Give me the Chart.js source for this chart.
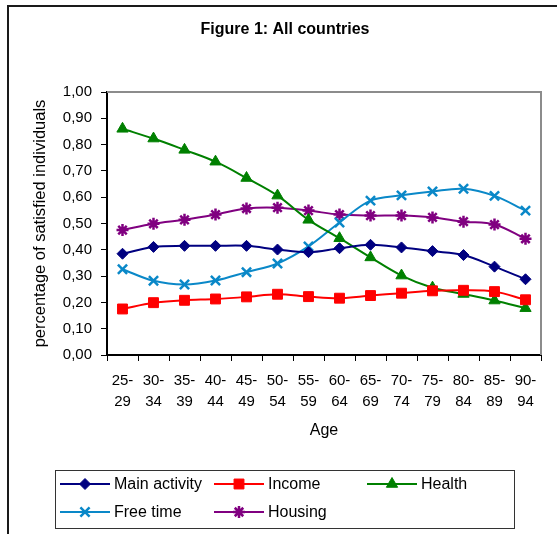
<!DOCTYPE html>
<html>
<head>
<meta charset="utf-8">
<title>Figure 1: All countries</title>
<script src="https://cdn.jsdelivr.net/npm/chart.js@4.4.1/dist/chart.umd.min.js"></script>
<style>
  html, body { margin: 0; padding: 0; background: #ffffff; }
  #wrap { width: 557px; height: 534px; position: relative; }
</style>
</head>
<body>
<div id="wrap"><canvas id="chart" width="557" height="534"></canvas></div>
<script>
// Age groups (two-line labels)
const ageGroups = [
  ['25-', '29'], ['30-', '34'], ['35-', '39'], ['40-', '44'], ['45-', '49'],
  ['50-', '54'], ['55-', '59'], ['60-', '64'], ['65-', '69'], ['70-', '74'],
  ['75-', '79'], ['80-', '84'], ['85-', '89'], ['90-', '94']
];

// Share of satisfied individuals by domain
const mainActivity = [0.385, 0.411, 0.415, 0.415, 0.415, 0.401, 0.391, 0.406, 0.419, 0.409, 0.395, 0.380, 0.336, 0.288];
const income       = [0.175, 0.199, 0.208, 0.213, 0.221, 0.231, 0.222, 0.216, 0.226, 0.235, 0.244, 0.246, 0.241, 0.210];
const health       = [0.860, 0.823, 0.780, 0.735, 0.673, 0.606, 0.514, 0.444, 0.371, 0.302, 0.256, 0.232, 0.207, 0.178];
const freeTime     = [0.326, 0.282, 0.268, 0.283, 0.315, 0.348, 0.413, 0.504, 0.587, 0.607, 0.622, 0.632, 0.605, 0.549];
const housing      = [0.475, 0.499, 0.514, 0.534, 0.557, 0.560, 0.549, 0.534, 0.530, 0.530, 0.523, 0.507, 0.496, 0.442];

// Value axis ticks
const yTicks = [0, 0.1, 0.2, 0.3, 0.4, 0.5, 0.6, 0.7, 0.8, 0.9, 1.0];

const chartTitle = 'Figure 1: All countries';

const FONT = '"Liberation Sans", Arial, sans-serif';

function series(label, data, color, style, radius, bw) {
  return {
    label, data,
    borderColor: color,
    backgroundColor: color,
    borderWidth: 2,
    pointStyle: style,
    pointRadius: radius,
    pointHoverRadius: radius,
    pointBorderWidth: bw,
    pointBackgroundColor: color,
    pointBorderColor: color,
    tension: 0.35,
    fill: false
  };
}

const datasets = [
  series('Main activity', mainActivity, '#000080', 'rectRot', 5.5, 1),
  series('Income', income, '#ff0000', 'rect', 7, 1),
  series('Health', health, '#008000', 'triangle', 6.5, 1),
  series('Free time', freeTime, '#0a88c8', 'crossRot', 6.5, 2.5),
  series('Housing', housing, '#800080', 'star', 6, 2.5)
];

// Heading, outer frame, plot border and the boxed legend
const decorations = {
  id: 'decorations',
  afterDraw(chart) {
    const ctx = chart.ctx;
    const a = chart.chartArea;
    ctx.save();

    // heading
    ctx.fillStyle = '#000000';
    ctx.font = 'bold 16px ' + FONT;
    ctx.textAlign = 'center';
    ctx.textBaseline = 'middle';
    ctx.fillText(chartTitle, 285, 30);

    // page frame (top and left)
    ctx.strokeStyle = '#1a1a1a';
    ctx.lineWidth = 2;
    ctx.beginPath();
    ctx.moveTo(7, 6); ctx.lineTo(557, 6);
    ctx.moveTo(8, 5); ctx.lineTo(8, 534);
    ctx.stroke();

    // plot area border (top and right)
    ctx.strokeStyle = '#8c8c8c';
    ctx.lineWidth = 2;
    ctx.beginPath();
    ctx.moveTo(a.left, a.top); ctx.lineTo(a.right + 1, a.top);
    ctx.moveTo(a.right, a.top); ctx.lineTo(a.right, a.bottom);
    ctx.stroke();

    // legend box
    ctx.strokeStyle = '#333333';
    ctx.lineWidth = 1;
    ctx.strokeRect(55.5, 470.5, 459, 58);

    const cols = [60, 214, 367];
    const rows = [484, 512];
    ctx.font = '16px ' + FONT;
    ctx.textBaseline = 'middle';
    ctx.textAlign = 'left';
    chart.data.datasets.forEach((ds, i) => {
      const x0 = cols[i % 3];
      const y = rows[Math.floor(i / 3)];
      ctx.strokeStyle = ds.borderColor;
      ctx.lineWidth = 2;
      ctx.beginPath();
      ctx.moveTo(x0, y); ctx.lineTo(x0 + 50, y);
      ctx.stroke();
      ctx.fillStyle = ds.pointBackgroundColor;
      ctx.strokeStyle = ds.pointBorderColor;
      ctx.lineWidth = ds.pointBorderWidth;
      Chart.helpers.drawPoint(ctx, {
        pointStyle: ds.pointStyle,
        radius: ds.pointRadius,
        borderWidth: ds.pointBorderWidth,
        rotation: 0
      }, x0 + 25, y);
      ctx.fillStyle = '#000000';
      ctx.fillText(ds.label, x0 + 54, y + 1);
    });
    ctx.restore();
  }
};

new Chart(document.getElementById('chart'), {
  type: 'line',
  data: { labels: ageGroups, datasets },
  plugins: [decorations],
  options: {
    responsive: false,
    animation: false,
    events: [],
    layout: { padding: { left: 0, right: 16, top: 92, bottom: 94 } },
    plugins: {
      legend: { display: false },
      tooltip: { enabled: false },
      title: { display: false }
    },
    scales: {
      x: {
        offset: true,
        afterFit(scale) { scale.height = 85; },
        grid: {
          offset: true,
          drawOnChartArea: false,
          drawTicks: true,
          tickLength: 6,
          tickColor: '#000000',
          tickWidth: 1
        },
        border: { display: true, color: '#000000', width: 2 },
        ticks: {
          color: '#000000',
          maxRotation: 0,
          autoSkip: false,
          padding: 9,
          font: { family: FONT, size: 15, lineHeight: 1.4 }
        },
        title: {
          display: true,
          text: 'Age',
          color: '#000000',
          font: { family: FONT, size: 16, lineHeight: 1.2 },
          padding: { top: 4, bottom: 0 }
        }
      },
      y: {
        min: 0,
        max: 1,
        afterFit(scale) { scale.width = 107; },
        afterBuildTicks(scale) { scale.ticks = yTicks.map(v => ({ value: v })); },
        grid: {
          drawOnChartArea: false,
          drawTicks: true,
          tickLength: 6,
          tickColor: '#000000',
          tickWidth: 1
        },
        border: { display: true, color: '#000000', width: 2 },
        ticks: {
          color: '#000000',
          padding: 9,
          font: { family: FONT, size: 15 },
          callback: v => Number(v).toFixed(2).replace('.', ',')
        },
        title: {
          display: true,
          text: 'percentage of satisfied individuals',
          color: '#000000',
          font: { family: FONT, size: 16.5, lineHeight: 1.2 },
          padding: { top: 31, bottom: 0 }
        }
      }
    }
  }
});
</script>
</body>
</html>
